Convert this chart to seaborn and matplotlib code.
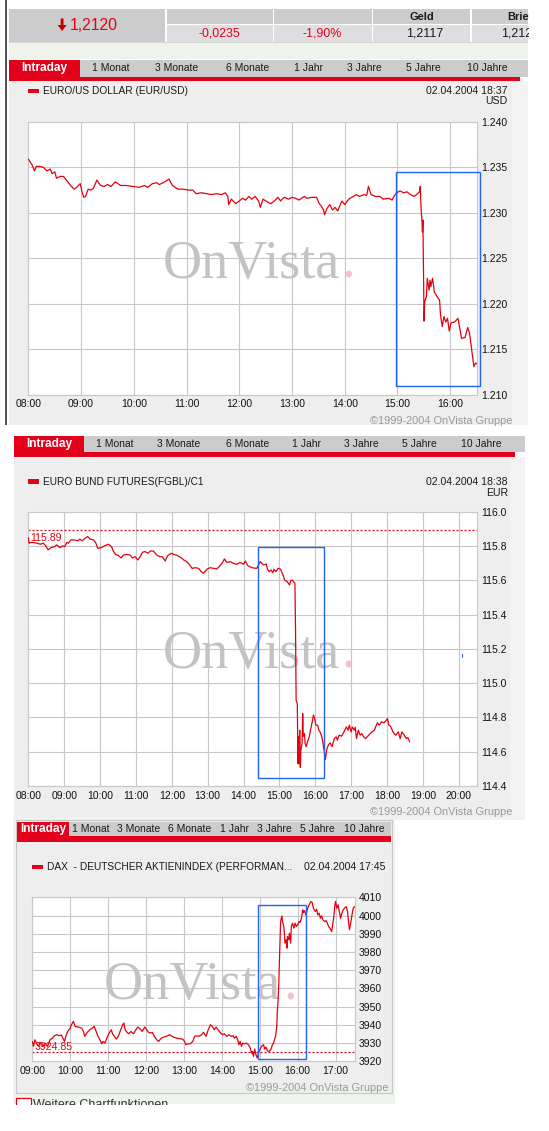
import numpy as np
import pandas as pd
import matplotlib
matplotlib.use("Agg")
import matplotlib.pyplot as plt
import seaborn as sns
from matplotlib.patches import Rectangle, Polygon

# ------------------------------------------------------------------ data
header_price = "1,2120"
header_change = "-0,0235"
header_pct = "-1,90%"
header_geld = "1,2117"
header_brief = "1,2123"
tab_labels = ["1 Monat", "3 Monate", "6 Monate", "1 Jahr", "3 Jahre", "5 Jahre", "10 Jahre"]

eur_title = "EURO/US DOLLAR (EUR/USD)"
eur_stamp = "02.04.2004 18:37"
eur_unit = "USD"
eur_time = [
    "08:00", "08:04", "08:07", "08:09", "08:13", "08:17", "08:21", "08:25", "08:27", "08:30",
    "08:32", "08:36", "08:40", "08:44", "08:48", "08:52", "08:55", "08:59", "09:01", "09:03",
    "09:05", "09:08", "09:11", "09:14", "09:18", "09:22", "09:26", "09:30", "09:34", "09:39",
    "09:45", "09:51", "09:59", "10:06", "10:12", "10:16", "10:21", "10:26", "10:29", "10:35",
    "10:40", "10:44", "10:50", "10:56", "11:02", "11:07", "11:11", "11:17", "11:23", "11:28",
    "11:34", "11:40", "11:44", "11:47", "11:48", "11:51", "11:56", "12:00", "12:04", "12:07",
    "12:11", "12:14", "12:18", "12:22", "12:24", "12:27", "12:32", "12:36", "12:41", "12:44",
    "12:47", "12:51", "12:56", "13:00", "13:04", "13:08", "13:14", "13:17", "13:23", "13:28",
    "13:31", "13:33", "13:36", "13:37", "13:40", "13:43", "13:46", "13:49", "13:52", "13:55",
    "13:57", "14:00", "14:03", "14:06", "14:10", "14:13", "14:17", "14:22", "14:25", "14:27",
    "14:30", "14:35", "14:40", "14:44", "14:50", "14:54", "14:56", "14:59", "15:03", "15:07",
    "15:11", "15:15", "15:19", "15:23", "15:25", "15:26", "15:27", "15:28", "15:28:30", "15:29",
    "15:29:40", "15:30:20", "15:31", "15:33", "15:34", "15:36", "15:37", "15:38", "15:40", "15:42",
    "15:45", "15:48", "15:49", "15:51", "15:53", "15:55", "15:57", "15:59", "16:01", "16:05",
    "16:09", "16:13", "16:17", "16:20", "16:22", "16:25", "16:27", "16:29", "16:30"]
eur_value = [
    1.2359, 1.2353, 1.2346, 1.2351, 1.2351, 1.2350, 1.2346, 1.2348, 1.2343, 1.2345,
    1.2338, 1.2340, 1.2340, 1.2335, 1.2330, 1.2326, 1.2328, 1.2332, 1.2323, 1.2317,
    1.2318, 1.2326, 1.2325, 1.2327, 1.2336, 1.2330, 1.2329, 1.2331, 1.2329, 1.2334,
    1.2330, 1.2330, 1.2329, 1.2328, 1.2330, 1.2328, 1.2332, 1.2333, 1.2331, 1.2334,
    1.2337, 1.2330, 1.2326, 1.2326, 1.2325, 1.2325, 1.2321, 1.2322, 1.2321, 1.2320,
    1.2321, 1.2320, 1.2322, 1.2318, 1.2309, 1.2315, 1.2310, 1.2313, 1.2316, 1.2314,
    1.2318, 1.2315, 1.2318, 1.2313, 1.2306, 1.2315, 1.2312, 1.2310, 1.2314, 1.2317,
    1.2313, 1.2317, 1.2315, 1.2317, 1.2316, 1.2314, 1.2318, 1.2316, 1.2317, 1.2317,
    1.2310, 1.2308, 1.2303, 1.2298, 1.2305, 1.2309, 1.2303, 1.2306, 1.2302, 1.2309,
    1.2313, 1.2309, 1.2313, 1.2316, 1.2318, 1.2320, 1.2318, 1.2320, 1.2319, 1.2329,
    1.2320, 1.2318, 1.2318, 1.2315, 1.2316, 1.2314, 1.2318, 1.2322, 1.2324, 1.2322,
    1.2323, 1.2320, 1.2318, 1.2321, 1.2323, 1.2329, 1.2303, 1.2290, 1.2279, 1.2292,
    1.2237, 1.2181, 1.2202, 1.2208, 1.2228, 1.2215, 1.2226, 1.2219, 1.2228, 1.2213,
    1.2208, 1.2204, 1.2188, 1.2175, 1.2186, 1.2180, 1.2184, 1.2170, 1.2179, 1.2180,
    1.2184, 1.2162, 1.2163, 1.2174, 1.2168, 1.2146, 1.2131, 1.2135, 1.2134]
eur_xticks = ["08:00", "09:00", "10:00", "11:00", "12:00", "13:00", "14:00", "15:00", "16:00"]
eur_yticks = [1.210, 1.215, 1.220, 1.225, 1.230, 1.235, 1.240]
eur_box = ["14:58", "16:34", 1.2110, 1.2345]

bund_title = "EURO BUND FUTURES(FGBL)/C1"
bund_stamp = "02.04.2004 18:38"
bund_unit = "EUR"
bund_ref = 115.89
bund_time = [
    "08:00", "08:01", "08:04", "08:08", "08:14", "08:20", "08:25", "08:29", "08:33", "08:38",
    "08:44", "08:47", "08:53", "08:57", "09:01", "09:04", "09:07", "09:11", "09:17", "09:23",
    "09:26", "09:30", "09:35", "09:39", "09:43", "09:49", "09:53", "09:56", "10:02", "10:07",
    "10:14", "10:19", "10:22", "10:26", "10:31", "10:35", "10:39", "10:45", "10:50", "10:54",
    "10:59", "11:03", "11:07", "11:11", "11:15", "11:20", "11:24", "11:29", "11:35", "11:40",
    "11:44", "11:49", "11:53", "11:59", "12:04", "12:10", "12:16", "12:20", "12:25", "12:29",
    "12:34", "12:39", "12:45", "12:49", "12:53", "12:59", "13:04", "13:10", "13:15", "13:19",
    "13:24", "13:28", "13:32", "13:38", "13:43", "13:49", "13:54", "14:00", "14:03", "14:07",
    "14:14", "14:22", "14:28", "14:30", "14:34", "14:38", "14:40", "14:43", "14:46", "14:49",
    "14:51", "14:54", "14:58", "15:02", "15:06", "15:09", "15:13", "15:17", "15:19", "15:22",
    "15:25", "15:26", "15:27", "15:28", "15:30", "15:31", "15:32", "15:33", "15:34", "15:35",
    "15:36", "15:38", "15:39", "15:40", "15:42", "15:43", "15:45", "15:47", "15:50", "15:52",
    "15:55", "15:57", "15:59", "16:01", "16:04", "16:06", "16:08", "16:11", "16:13", "16:14",
    "16:15", "16:17", "16:19", "16:22", "16:25", "16:28", "16:32", "16:35", "16:37", "16:40",
    "16:44", "16:48", "16:52", "16:55", "16:57", "17:00", "17:02", "17:05", "17:07", "17:09",
    "17:12", "17:15", "17:18", "17:21", "17:24", "17:27", "17:31", "17:35", "17:39", "17:41",
    "17:44", "17:47", "17:51", "17:55", "17:59", "18:01", "18:03", "18:06", "18:10", "18:13",
    "18:15", "18:19", "18:22", "18:25", "18:29", "18:32", "18:35", "18:38"]
bund_value = [
    115.848, 115.816, 115.820, 115.820, 115.816, 115.810, 115.816, 115.800, 115.777, 115.790,
    115.796, 115.806, 115.790, 115.800, 115.796, 115.820, 115.816, 115.835, 115.835, 115.830,
    115.840, 115.830, 115.845, 115.855, 115.840, 115.835, 115.816, 115.786, 115.790, 115.800,
    115.810, 115.796, 115.770, 115.750, 115.743, 115.730, 115.747, 115.750, 115.747, 115.730,
    115.737, 115.718, 115.737, 115.763, 115.767, 115.757, 115.770, 115.770, 115.747, 115.737,
    115.737, 115.712, 115.743, 115.757, 115.750, 115.743, 115.730, 115.718, 115.708, 115.693,
    115.669, 115.673, 115.669, 115.650, 115.640, 115.665, 115.673, 115.669, 115.665, 115.679,
    115.698, 115.724, 115.704, 115.708, 115.698, 115.693, 115.704, 115.693, 115.712, 115.685,
    115.673, 115.669, 115.709, 115.700, 115.689, 115.695, 115.664, 115.650, 115.660, 115.644,
    115.664, 115.650, 115.670, 115.664, 115.631, 115.600, 115.592, 115.572, 115.598, 115.600,
    115.586, 115.582, 115.310, 114.900, 114.880, 114.530, 114.690, 114.530, 114.726, 114.510,
    114.610, 114.650, 114.823, 114.690, 114.706, 114.650, 114.630, 114.658, 114.687, 114.726,
    114.775, 114.814, 114.794, 114.755, 114.755, 114.726, 114.716, 114.687, 114.650, 114.620,
    114.610, 114.555, 114.610, 114.640, 114.652, 114.630, 114.677, 114.687, 114.668, 114.697,
    114.691, 114.716, 114.745, 114.726, 114.755, 114.716, 114.745, 114.726, 114.743, 114.677,
    114.726, 114.697, 114.706, 114.687, 114.677, 114.687, 114.703, 114.716, 114.726, 114.745,
    114.769, 114.755, 114.775, 114.769, 114.784, 114.794, 114.755, 114.749, 114.716, 114.703,
    114.697, 114.716, 114.677, 114.716, 114.697, 114.677, 114.683, 114.658]
bund_xticks = ["08:00", "09:00", "10:00", "11:00", "12:00", "13:00", "14:00", "15:00",
               "16:00", "17:00", "18:00", "19:00", "20:00"]
bund_yticks = [114.4, 114.6, 114.8, 115.0, 115.2, 115.4, 115.6, 115.8, 116.0]
bund_box = ["14:25", "16:15", 114.449, 115.7925]
bund_mark = ["20:06", 115.150, 115.168]

dax_title = "DAX  - DEUTSCHER AKTIENINDEX (PERFORMAN..."
dax_stamp = "02.04.2004 17:45"
dax_ref = 3924.85
dax_time = [
    "09:00", "09:02", "09:04", "09:07", "09:10", "09:12", "09:15", "09:17", "09:20", "09:24",
    "09:28", "09:32", "09:35", "09:39", "09:42", "09:46", "09:51", "09:53", "09:56", "10:00",
    "10:02", "10:05", "10:08", "10:13", "10:18", "10:21", "10:23", "10:27", "10:31", "10:35",
    "10:38", "10:41", "10:44", "10:47", "10:50", "10:52", "10:55", "10:58", "11:01", "11:05",
    "11:07", "11:10", "11:13", "11:16", "11:19", "11:23", "11:25", "11:27", "11:30", "11:33",
    "11:36", "11:40", "11:44", "11:47", "11:51", "11:54", "11:58", "12:01", "12:04", "12:07",
    "12:10", "12:13", "12:17", "12:20", "12:24", "12:28", "12:32", "12:37", "12:41", "12:45",
    "12:49", "12:53", "12:58", "13:01", "13:03", "13:06", "13:10", "13:14", "13:17", "13:20",
    "13:24", "13:28", "13:31", "13:35", "13:38", "13:42", "13:45", "13:48", "13:51", "13:54",
    "13:58", "14:01", "14:04", "14:08", "14:11", "14:15", "14:18", "14:20", "14:23", "14:25",
    "14:27", "14:29", "14:31", "14:33", "14:36", "14:39", "14:42", "14:45", "14:47", "14:48",
    "14:50", "14:52", "14:54", "14:56", "14:58", "15:00", "15:03", "15:06", "15:08", "15:10",
    "15:12", "15:15", "15:18", "15:20", "15:22", "15:24", "15:25", "15:27", "15:28", "15:29",
    "15:30", "15:31", "15:32", "15:33", "15:35", "15:36", "15:38", "15:39", "15:40", "15:42",
    "15:43", "15:44", "15:46", "15:47", "15:49", "15:50", "15:52", "15:54", "15:56", "15:58",
    "16:00", "16:02", "16:04", "16:06", "16:08", "16:09", "16:11", "16:13", "16:16", "16:18",
    "16:21", "16:23", "16:25", "16:28", "16:30", "16:32", "16:34", "16:36", "16:38", "16:40",
    "16:43", "16:45", "16:47", "16:49", "16:51", "16:54", "16:55", "16:57", "16:59", "17:00",
    "17:02", "17:04", "17:06", "17:08", "17:10", "17:12", "17:14", "17:17", "17:19", "17:20",
    "17:22", "17:24", "17:26", "17:28", "17:30"]
dax_value = [
    3930.9, 3928.2, 3931.8, 3929.6, 3928.2, 3930.4, 3929.6, 3928.2, 3930.0, 3928.2,
    3931.8, 3932.7, 3934.0, 3934.6, 3934.0, 3934.4, 3930.9, 3933.7, 3936.4, 3938.2,
    3940.1, 3941.9, 3939.1, 3938.8, 3938.2, 3936.4, 3933.7, 3935.9, 3937.3, 3938.2,
    3939.1, 3936.4, 3933.7, 3931.8, 3929.6, 3930.9, 3930.0, 3932.7, 3935.1, 3937.3,
    3935.1, 3933.7, 3932.2, 3933.7, 3936.4, 3940.1, 3941.0, 3937.3, 3935.9, 3935.1,
    3936.4, 3935.1, 3937.3, 3938.8, 3937.7, 3936.4, 3938.8, 3937.3, 3935.9, 3935.5,
    3935.9, 3933.7, 3931.8, 3930.9, 3932.7, 3933.3, 3933.7, 3934.6, 3933.7, 3933.1,
    3932.7, 3932.4, 3932.2, 3930.9, 3929.1, 3929.6, 3929.6, 3930.9, 3933.7, 3934.0,
    3933.7, 3934.6, 3935.9, 3933.7, 3936.9, 3940.1, 3939.1, 3937.3, 3938.8, 3937.3,
    3935.5, 3934.6, 3935.1, 3933.7, 3934.6, 3933.7, 3934.0, 3932.7, 3933.7, 3931.8,
    3929.1, 3930.9, 3928.2, 3930.0, 3929.6, 3930.0, 3929.1, 3927.3, 3924.5, 3925.4,
    3922.7, 3926.7, 3923.6, 3921.8, 3924.5, 3926.3, 3928.2, 3929.1, 3926.7, 3927.8,
    3925.8, 3925.4, 3926.7, 3929.1, 3930.0, 3932.7, 3933.7, 3939.1, 3948.3, 3952.9,
    3961.1, 3972.0, 3984.8, 3996.7, 3999.8, 3996.7, 3994.0, 3990.3, 3984.8, 3986.7,
    3982.1, 3988.5, 3986.7, 3990.3, 3984.8, 3994.0, 3995.8, 3993.1, 3995.8, 3994.0,
    3994.9, 3996.7, 3996.2, 3998.5, 4003.1, 4001.6, 4002.7, 4000.3, 4004.0, 4005.9,
    4007.7, 4007.1, 4004.0, 4002.2, 4003.5, 4000.3, 4001.3, 3998.5, 3999.8, 3997.6,
    3996.7, 3997.2, 3995.8, 3994.0, 3993.1, 3991.2, 3994.0, 3998.5, 4005.9, 4007.7,
    4004.0, 4005.9, 4002.2, 3998.5, 4001.3, 4003.1, 4004.0, 4004.9, 4002.2, 3998.5,
    3992.2, 3995.8, 4000.3, 4004.0, 4004.9]
dax_xticks = ["09:00", "10:00", "11:00", "12:00", "13:00", "14:00", "15:00", "16:00", "17:00"]
dax_yticks = [3920, 3930, 3940, 3950, 3960, 3970, 3980, 3990, 4000, 4010]
dax_box = ["14:57", "16:14", 3921.5, 4005.6]

copyright_text = "\u00a91999-2004 OnVista Gruppe"
more_text = "Weitere Chartfunktionen"

assert len(eur_time) == len(eur_value)
assert len(bund_time) == len(bund_value)
assert len(dax_time) == len(dax_value)


def hours(t):
    parts = [int(p) for p in t.split(":")]
    while len(parts) < 3:
        parts.append(0)
    return parts[0] + parts[1] / 60 + parts[2] / 3600


# ------------------------------------------------------------------ style
sns.set_theme(style="white")
plt.rcParams['font.family'] = ['Liberation Sans', 'DejaVu Sans']

W, H = 549, 1131
RED = '#e2001a'
LINE_RED = '#e6000d'
BLUE = '#1f64f2'
GRID = '#c9c6cc'
PANEL = '#eeeeee'
TABGREY = '#cccccc'
TXT = '#1a1a1a'

fig = plt.figure(figsize=(W / 100, H / 100), dpi=100, facecolor='white')
bg = fig.add_axes([0, 0, 1, 1], zorder=0)
bg.set_xlim(0, W)
bg.set_ylim(H, 0)
bg.axis('off')


def rect(x0, y0, x1, y1, fc, ec='none', lw=0, z=1):
    bg.add_patch(Rectangle((x0, y0), x1 - x0, y1 - y0, facecolor=fc,
                           edgecolor=ec, linewidth=lw, zorder=z))


def txt(x, y, s, size, color=TXT, ha='left', va='center', weight='normal', z=3):
    bg.text(x, y, s, fontsize=size, color=color, ha=ha, va=va,
            fontweight=weight, zorder=z)


def px_axes(x0, y0, x1, y1):
    return fig.add_axes([x0 / W, 1 - y1 / H, (x1 - x0) / W, (y1 - y0) / H], zorder=2)


def tabs(x0, x_red, x_end, x_line_end, y0, y1, y2, label_xs, ly):
    rect(x0, y0, x_red, y2 - 0.2, RED)
    rect(x_red, y0, x_end, y1, TABGREY)
    rect(x0, y1, x_line_end, y2, RED)
    txt((x0 + x_red) / 2, ly, "Intraday", 8.6, 'white', ha='center', weight='bold', z=4)
    for lx, lab in zip(label_xs, tab_labels):
        txt(lx, ly, lab, 7.5, ha='center')


def draw_chart(ax, times, values, xlim, ylim, xt, yt, yfmt):
    df = pd.DataFrame({"hour": [hours(t) for t in times], "value": values})
    sns.lineplot(data=df, x="hour", y="value", ax=ax, color=LINE_RED,
                 linewidth=0.9, estimator=None, sort=False, zorder=3)
    ax.set_facecolor('white')
    ax.set_xlim(xlim)
    ax.set_ylim(ylim)
    ax.set_xticks([hours(t) for t in xt])
    ax.set_xticklabels(xt)
    ax.set_yticks(yt)
    ax.set_yticklabels([yfmt.format(v) for v in yt])
    ax.yaxis.tick_right()
    ax.tick_params(length=0, labelsize=7.5, pad=3.2, colors='#111111')
    ax.grid(True, color=GRID, linewidth=0.8)
    ax.set_axisbelow(True)
    for s in ax.spines.values():
        s.set_color(GRID)
        s.set_linewidth(0.8)
    ax.set_xlabel("")
    ax.set_ylabel("")


def box(ax, b):
    x0, x1 = hours(b[0]), hours(b[1])
    ax.add_patch(Rectangle((x0, b[2]), x1 - x0, b[3] - b[2], fill=False,
                           edgecolor=BLUE, linewidth=1.0, clip_on=False, zorder=5))


def watermark(ax, x, base):
    ax.text(x, base, "OnVista", transform=bg.transData, fontsize=39,
            family='Liberation Serif', color='#c3c3c3', ha='left',
            va='baseline', zorder=1)
    ax.text(x + 179, base, ".", transform=bg.transData, fontsize=39,
            family='Liberation Serif', color='#f1c3ca', ha='left',
            va='baseline', zorder=1)


# ------------------------------------------------------------------ panel 1 (EUR/USD)
rect(4.5, 0, 6.5, 425, '#555555')
rect(8.7, 80.7, 528, 425, PANEL)
rect(512, 80.7, 528, 425, '#f3f3f3')
# header table
rect(8.7, 9.3, 528, 41.7, '#cccccc')
rect(167, 25.2, 528, 41.7, '#dedede')
for xs in [166.2, 273.5, 372.5, 470.8]:
    rect(xs - 0.8, 9.3, xs + 0.8, 41.7, 'white', z=1.5)
rect(166, 24.3, 528, 25.3, 'white', z=1.5)
rect(8.7, 41.7, 528, 43.2, '#d6d6d6')
rect(8.7, 43.2, 528, 58.6, '#eef3ec')
bg.add_patch(Polygon([[60.7, 18.5], [63.5, 18.5], [63.5, 25], [66.6, 25], [62.1, 31],
                      [57.6, 25], [60.7, 25]], closed=True, facecolor='#c40000',
                     edgecolor='none', zorder=3))
txt(93.5, 25.2, header_price, 11.3, RED, ha='center')
txt(219.6, 33.4, header_change, 8.9, RED, ha='center')
txt(322.2, 33.4, header_pct, 8.9, RED, ha='center')
txt(421.6, 16.8, "Geld", 7.9, ha='center', weight='bold')
txt(424.5, 33.4, header_geld, 8.9, ha='center')
txt(520, 16.8, "Brief", 7.9, ha='center', weight='bold')
txt(520, 33.4, header_brief, 8.9, ha='center')
rect(528.5, 0, 549, 60, 'white', z=6)

tabs(8.7, 80, 528, 520, 60, 76.5, 80.7,
     [110.3, 176.9, 248, 309, 364.3, 423, 486.9], 67.8)
rect(28, 88.6, 38.5, 93.2, RED)
txt(42.7, 90.9, eur_title, 7.3)
txt(507.9, 90.9, eur_stamp, 7.6, ha='right')
txt(507.9, 101.2, eur_unit, 7.6, ha='right')
txt(512, 421, copyright_text, 7.9, '#9a9a9a', ha='right')

ax1 = px_axes(28.4, 121.8, 476.5, 394.8)
draw_chart(ax1, eur_time, eur_value, (8, 16.5), (1.210, 1.240), eur_xticks, eur_yticks, "{:.3f}")
watermark(ax1, 162.6, 278)
box(ax1, eur_box)

# ------------------------------------------------------------------ panel 2 (Bund)
rect(14, 457, 525.4, 817, PANEL)
rect(510, 457, 525.4, 817, '#f3f3f3')
rect(14, 817, 525.4, 820, '#eef3ec')
tabs(14, 84, 525.4, 515, 436, 452, 457,
     [114.5, 178.6, 248, 307, 361, 419, 481.6], 444.4)
rect(28, 479.4, 38.5, 484, RED)
txt(42.7, 481.8, bund_title, 7.3)
txt(507.9, 481.8, bund_stamp, 7.6, ha='right')
txt(507.9, 492.8, bund_unit, 7.6, ha='right')
txt(512, 812.3, copyright_text, 7.9, '#9a9a9a', ha='right')

ax2 = px_axes(28.4, 511.6, 476.6, 786.1)
draw_chart(ax2, bund_time, bund_value, (8, 20.5), (114.4, 116.0), bund_xticks, bund_yticks, "{:.1f}")
watermark(ax2, 162.6, 668)
ax2.axhline(bund_ref, color=LINE_RED, linewidth=0.9, linestyle=(0, (1.6, 1.6)), zorder=2)
ax2.text(30, 537.8, "{:.2f}".format(bund_ref), transform=bg.transData, fontsize=7.6,
         color=LINE_RED, ha='left', va='center', zorder=4)
box(ax2, bund_box)
ax2.plot([hours(bund_mark[0])] * 2, bund_mark[1:], color=BLUE, linewidth=0.8, zorder=4)

# ------------------------------------------------------------------ panel 3 (DAX)
rect(13, 817, 395, 1104, '#eff3ee')
rect(16, 820, 392, 1093, PANEL, ec='#c8c8c8', lw=0.8)
tabs(17.3, 69, 390.7, 390.7, 821.7, 835.8, 841.7,
     [91, 139, 190, 234, 274, 317, 364], 829.4)
rect(32.3, 864.5, 43.3, 869, RED)
txt(46.7, 866.8, dax_title, 7.3)
txt(385, 866.8, dax_stamp, 7.6, ha='right')
txt(388.3, 1088.3, copyright_text, 7.9, '#9a9a9a', ha='right')

ax3 = px_axes(32.3, 897.3, 354.5, 1061.3)
draw_chart(ax3, dax_time, dax_value, (9, 17.5), (3920, 4010), dax_xticks, dax_yticks, "{:.0f}")
watermark(ax3, 104, 999)
ax3.axhline(dax_ref, color=LINE_RED, linewidth=0.9, linestyle=(0, (1.6, 1.6)), zorder=2)
ax3.text(35, 1047, "{:.2f}".format(dax_ref), transform=bg.transData, fontsize=7.6,
         color=LINE_RED, ha='left', va='center', zorder=4)
box(ax3, dax_box)

# cut-off footer line
rect(16, 1098, 30.7, 1112, 'white', ec=RED, lw=0.9, z=3)
txt(33.3, 1099.3, more_text, 9, '#333333', va='top')
rect(0, 1104.5, W, H, 'white', z=6)

fig.savefig("out.png", dpi=100, facecolor='white')
